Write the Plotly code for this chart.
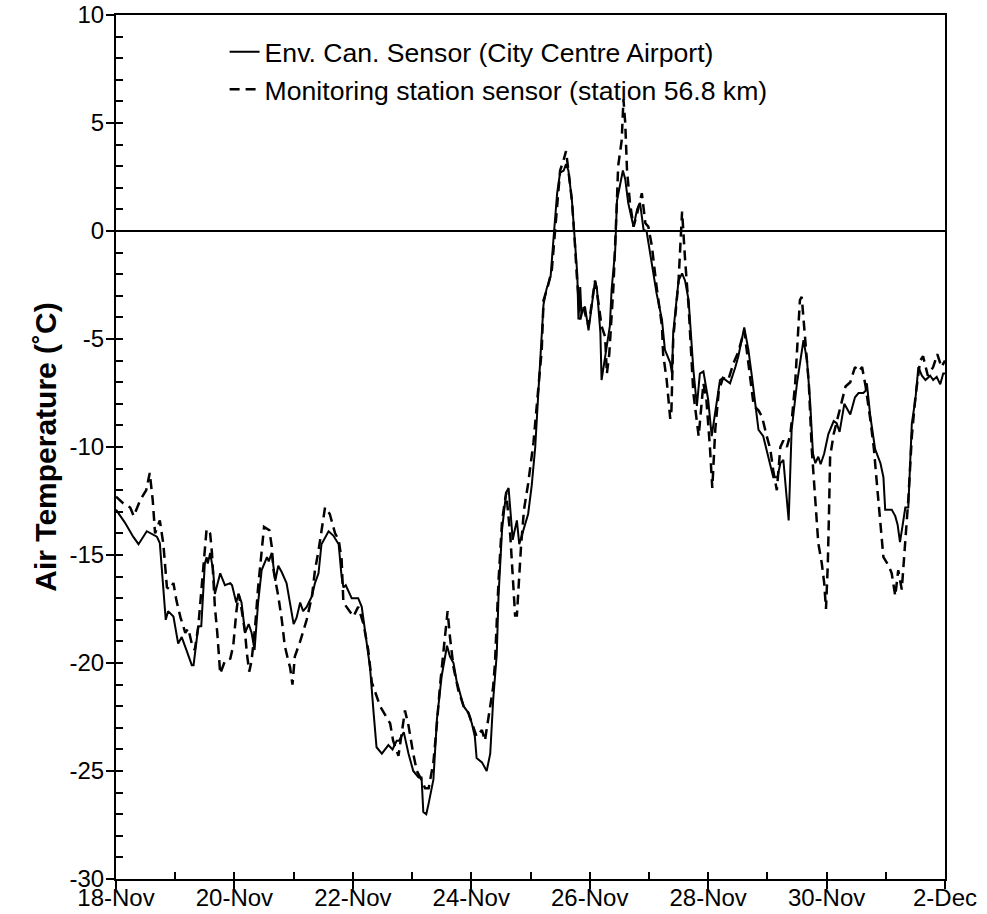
import pandas as pd
import plotly.graph_objects as go

START = "2016-11-18"

# Env. Can. Sensor (City Centre Airport): days after 18-Nov, temperature (°C)
env_days = [0.00, 0.15, 0.29, 0.38, 0.52, 0.69, 0.74, 0.84, 0.88, 0.97, 1.05, 1.11, 1.19, 1.28, 1.31, 1.36,
            1.39, 1.44, 1.50, 1.53, 1.55, 1.59, 1.64, 1.67, 1.76, 1.84, 1.93, 1.96, 2.03, 2.07, 2.12, 2.18,
            2.24, 2.29, 2.34, 2.40, 2.46, 2.55, 2.58, 2.63, 2.69, 2.74, 2.80, 2.88, 3.00, 3.05, 3.11, 3.16,
            3.22, 3.31, 3.36, 3.42, 3.47, 3.59, 3.67, 3.76, 3.81, 3.84, 3.88, 3.98, 4.09, 4.15, 4.23, 4.29,
            4.35, 4.40, 4.49, 4.60, 4.67, 4.74, 4.78, 4.86, 4.94, 5.02, 5.11, 5.16, 5.19, 5.24, 5.28, 5.36,
            5.42, 5.50, 5.59, 5.64, 5.70, 5.75, 5.81, 5.87, 5.95, 6.01, 6.06, 6.09, 6.18, 6.26, 6.32, 6.37,
            6.43, 6.46, 6.52, 6.59, 6.63, 6.67, 6.70, 6.73, 6.77, 6.81, 6.88, 6.96, 7.02, 7.08, 7.13, 7.22,
            7.27, 7.34, 7.39, 7.45, 7.50, 7.56, 7.60, 7.64, 7.70, 7.75, 7.79, 7.81, 7.84, 7.86, 7.92, 7.98,
            8.04, 8.09, 8.12, 8.18, 8.20, 8.23, 8.29, 8.34, 8.37, 8.43, 8.46, 8.51, 8.56, 8.60, 8.65, 8.74,
            8.80, 8.85, 8.91, 8.96, 9.05, 9.13, 9.22, 9.27, 9.36, 9.39, 9.41, 9.50, 9.56, 9.61, 9.67, 9.75,
            9.81, 9.86, 9.92, 10.00, 10.06, 10.15, 10.20, 10.25, 10.37, 10.46, 10.51, 10.61, 10.68, 10.74,
            10.79, 10.85, 10.93, 11.02, 11.10, 11.17, 11.22, 11.27, 11.36, 11.41, 11.50, 11.61, 11.67, 11.72,
            11.77, 11.81, 11.86, 11.90, 11.96, 12.03, 12.12, 12.17, 12.22, 12.30, 12.40, 12.48, 12.54, 12.62,
            12.66, 12.68, 12.74, 12.82, 12.91, 12.96, 12.99, 13.10, 13.16, 13.20, 13.24, 13.28, 13.33, 13.38,
            13.44, 13.50, 13.55, 13.61, 13.67, 13.75, 13.80, 13.86, 13.92, 13.97, 14.00]
env_temp = [-12.9, -13.5, -14.15, -14.5, -13.9, -14.15, -14.45, -18.0, -17.6, -17.85, -19.1, -18.8, -19.4, -20.1, -20.1, -18.8,
            -18.3, -18.3, -15.4, -15.1, -15.4, -14.9, -15.7, -16.8, -15.85, -16.4, -16.3, -16.4, -17.2, -16.8, -17.2, -18.6,
            -18.2, -18.6, -19.4, -17.2, -15.7, -15.1, -15.3, -14.9, -16.2, -15.5, -15.8, -16.3, -18.2, -17.9, -17.2, -17.6,
            -17.4, -16.9, -16.3, -15.85, -14.5, -13.9, -14.1, -14.5, -16.0, -16.5, -16.4, -17.0, -17.0, -17.4, -18.9, -20.2,
            -22.3, -23.9, -24.2, -23.8, -24.0, -23.6, -23.6, -23.2, -24.2, -25.0, -25.3, -25.3, -26.9, -27.0, -26.5, -25.4,
            -22.6, -20.6, -19.2, -19.7, -20.0, -20.8, -21.4, -22.0, -22.3, -22.8, -23.4, -24.4, -24.6, -25.0, -24.2, -21.7,
            -19.6, -16.9, -13.8, -12.1, -11.9, -13.2, -14.3, -13.9, -13.4, -14.5, -13.8, -13.1, -11.8, -10.0, -7.6, -3.4,
            -2.7, -2.1, -0.3, 1.75, 2.7, 2.8, 3.1, 2.8, 1.4, -0.3, -2.0, -4.1, -2.6, -3.8, -3.5, -4.6,
            -3.2, -2.3, -2.6, -4.7, -6.9, -6.4, -5.4, -4.4, -2.7, -0.9, 1.4, 2.05, 2.8, 2.4, 1.3, 0.2,
            1.0, 1.3, 0.05, 0.0, -1.65, -2.9, -4.1, -5.5, -6.1, -6.6, -4.7, -2.3, -1.96, -2.3, -3.2, -6.4,
            -8.1, -6.6, -6.5, -7.8, -9.5, -7.7, -6.9, -6.8, -7.05, -6.3, -5.8, -4.46, -5.5, -6.75,
            -7.8, -9.2, -9.5, -10.45, -11.4, -11.4, -10.75, -10.6, -13.4, -9.2, -7.05, -5.05, -6.0, -7.8,
            -10.3, -10.75, -10.45, -10.8, -10.3, -9.4, -8.8, -8.9, -9.3, -8.0, -8.5, -7.7, -7.5, -7.5,
            -7.4, -7.05, -8.6, -10.1, -10.75, -11.4, -12.9, -12.9, -13.2, -13.6, -14.4, -13.7, -12.8, -12.8,
            -8.9, -7.8, -6.3, -6.7, -6.9, -6.7, -6.9, -6.75, -7.1, -6.6, -6.6]

# Monitoring station sensor (station 56.8 km)
mon_days = [0.00, 0.12, 0.24, 0.30, 0.41, 0.51, 0.57, 0.62, 0.66, 0.74, 0.80, 0.86, 0.91, 0.97, 1.02, 1.09,
            1.17, 1.22, 1.28, 1.33, 1.39, 1.47, 1.53, 1.59, 1.62, 1.67, 1.71, 1.76, 1.84, 1.93, 1.98, 2.03,
            2.07, 2.12, 2.18, 2.21, 2.25, 2.29, 2.35, 2.40, 2.46, 2.50, 2.59, 2.63, 2.66, 2.74, 2.80, 2.85,
            2.91, 2.94, 2.98, 3.02, 3.11, 3.22, 3.31, 3.36, 3.42, 3.47, 3.53, 3.61, 3.70, 3.76, 3.81, 3.84,
            3.92, 4.01, 4.09, 4.18, 4.26, 4.32, 4.46, 4.63, 4.68, 4.77, 4.88, 4.94, 5.02, 5.08, 5.14, 5.22,
            5.28, 5.36, 5.42, 5.47, 5.54, 5.60, 5.64, 5.70, 5.78, 5.87, 5.95, 6.04, 6.09, 6.18, 6.23, 6.32,
            6.37, 6.40, 6.46, 6.52, 6.59, 6.66, 6.69, 6.74, 6.77, 6.81, 6.84, 6.89, 6.96, 7.05, 7.11, 7.19,
            7.22, 7.29, 7.36, 7.42, 7.50, 7.56, 7.60, 7.64, 7.70, 7.75, 7.78, 7.84, 7.89, 7.98, 8.04, 8.09,
            8.15, 8.20, 8.26, 8.29, 8.33, 8.37, 8.40, 8.46, 8.48, 8.54, 8.57, 8.60, 8.63, 8.68, 8.74, 8.80,
            8.88, 8.94, 8.99, 9.05, 9.13, 9.22, 9.24, 9.30, 9.36, 9.38, 9.41, 9.50, 9.56, 9.61, 9.67, 9.75,
            9.84, 9.92, 9.97, 10.03, 10.07, 10.12, 10.18, 10.25, 10.34, 10.43, 10.51, 10.61, 10.68, 10.77,
            10.85, 10.91, 10.99, 11.05, 11.10, 11.16, 11.22, 11.27, 11.33, 11.39, 11.47, 11.55, 11.58, 11.64,
            11.70, 11.75, 11.81, 11.86, 11.92, 11.96, 11.99, 12.02, 12.04, 12.06, 12.12, 12.17, 12.22, 12.32,
            12.40, 12.48, 12.54, 12.60, 12.66, 12.74, 12.80, 12.85, 12.91, 12.96, 13.05, 13.10, 13.16, 13.21,
            13.27, 13.33, 13.38, 13.44, 13.50, 13.58, 13.63, 13.71, 13.80, 13.87, 13.94, 14.00]
mon_temp = [-12.3, -12.6, -12.8, -13.2, -12.45, -12.0, -11.2, -12.45, -14.0, -13.4, -14.5, -16.5, -16.6, -16.3, -17.1, -17.9,
            -18.6, -18.4, -19.1, -19.4, -18.3, -15.5, -13.8, -14.0, -14.9, -17.4, -18.6, -20.5, -19.9, -19.8, -19.2, -17.7,
            -16.8, -17.5, -18.6, -19.55, -20.4, -19.9, -18.3, -16.5, -14.8, -13.7, -13.85, -14.6, -15.7, -16.9, -18.0, -19.2,
            -19.9, -20.2, -21.0, -19.7, -19.0, -18.0, -16.9, -15.7, -14.8, -13.85, -12.8, -13.1, -14.0, -14.3, -15.2, -17.2,
            -17.5, -17.85, -17.4, -18.2, -19.4, -20.9, -22.0, -22.8, -23.6, -24.3, -22.2, -22.9, -24.2, -25.0, -25.3, -25.8,
            -25.8, -24.6, -22.8, -21.1, -19.2, -17.6, -18.8, -20.2, -21.25, -22.0, -22.3, -22.95, -23.4, -23.1, -23.6, -22.0,
            -21.1, -20.0, -16.2, -13.4, -12.1, -14.15, -15.6, -17.8, -17.8, -15.7, -14.6, -12.9, -11.7, -9.8, -8.0, -5.5,
            -3.2, -2.6, -1.8, 0.2, 2.8, 3.3, 3.7, 2.8, 1.4, -0.6, -2.0, -4.1, -3.5, -4.4, -3.2, -2.3,
            -3.35, -4.4, -4.9, -6.6, -5.7, -4.1, -2.6, 1.4, 3.0, 4.2, 6.1, 5.0, 2.8, 1.3, 0.2, 0.8,
            1.75, 0.36, 0.2, -0.7, -2.6, -4.4, -5.7, -6.9, -8.7, -8.3, -5.0, -2.3, 0.9, -1.3, -3.5, -7.5,
            -9.5, -7.05, -7.8, -10.0, -11.9, -9.2, -7.4, -6.8, -6.9, -6.1, -5.6, -4.6, -6.1, -8.1,
            -8.3, -8.6, -9.5, -10.1, -11.1, -12.0, -10.0, -9.7, -10.0, -9.4, -7.05, -3.2, -3.05, -4.9,
            -7.05, -10.1, -12.45, -14.45, -15.4, -16.3, -17.5, -15.5, -13.2, -10.45, -9.4, -8.9, -8.3, -7.2,
            -7.0, -6.3, -6.5, -6.3, -7.2, -8.75, -10.1, -11.7, -13.5, -15.1, -15.5, -15.85, -16.9, -15.7,
            -16.6, -14.45, -12.45, -9.5, -7.7, -6.0, -5.8, -6.7, -6.3, -5.7, -6.3, -6.0]

series_names = ["Env. Can. Sensor (City Centre Airport)", "Monitoring station sensor (station 56.8 km)"]
y_title = "Air Temperature (˚C)"
x_range_days = [0, 14]
y_range = [-30, 10]
y_tickvals = [-30, -25, -20, -15, -10, -5, 0, 5, 10]
y_ticktext = ["-30", "-25", "-20", "-15", "-10", "-5", "0", "5", "10"]

t0 = pd.Timestamp(START)
to_dt = lambda d: [t0 + pd.Timedelta(days=v) for v in d]
x_lo, x_hi = to_dt(x_range_days)

FONT = "Arial, Liberation Sans, sans-serif"
TICK_FS = 24

fig = go.Figure()
fig.add_trace(go.Scatter(x=to_dt(env_days), y=env_temp, mode="lines", name=series_names[0],
                         line=dict(color="black", width=2)))
fig.add_trace(go.Scatter(x=to_dt(mon_days), y=mon_temp, mode="lines", name=series_names[1],
                         line=dict(color="black", width=2.5, dash="10px,6px")))

DAY_MS = 86400000
fig.update_layout(
    template="none",
    width=987, height=914,
    margin=dict(l=116, r=42, t=15, b=35),
    paper_bgcolor="white", plot_bgcolor="white",
    font=dict(family=FONT, size=TICK_FS, color="black"),
    showlegend=True,
    legend=dict(x=0.131, y=0.985, xanchor="left", yanchor="top",
                bgcolor="rgba(0,0,0,0)", font=dict(size=26.6, family=FONT),
                tracegroupgap=0),
    xaxis=dict(type="date", range=[x_lo, x_hi], showgrid=False, zeroline=False,
               showline=True, linecolor="black", linewidth=2, mirror=True,
               ticks="outside", ticklen=8, tickwidth=1.5, tickcolor="black",
               dtick=2 * DAY_MS, tick0=START, tickformat="%-d-%b",
               ticklabelstandoff=-12,
               tickfont=dict(size=TICK_FS, family=FONT), automargin=False),
    xaxis2=dict(type="date", overlaying="x", anchor="y", side="bottom", range=[x_lo, x_hi],
                showgrid=False, zeroline=False, showline=False, showticklabels=False,
                ticks="inside", ticklen=7, tickwidth=1.5, tickcolor="black",
                dtick=DAY_MS, tick0=START, automargin=False),
    yaxis=dict(range=y_range, tickmode="array", tickvals=y_tickvals, ticktext=y_ticktext,
               showgrid=False,
               zeroline=True, zerolinecolor="black", zerolinewidth=2,
               showline=True, linecolor="black", linewidth=2, mirror=True,
               ticks="outside", ticklen=8, tickwidth=1.5, tickcolor="black",
               ticklabelstandoff=-3,
               tickfont=dict(size=TICK_FS, family=FONT), automargin=False,
               title=dict(text=y_title, font=dict(size=30, family=FONT, weight="bold"), standoff=4)),
    yaxis2=dict(range=y_range, dtick=1, overlaying="y", anchor="x", side="left",
                showgrid=False, zeroline=False, showline=False, showticklabels=False,
                ticks="inside", ticklen=7, tickwidth=1.5, tickcolor="black", automargin=False),
)
# invisible helper trace so the overlay axes are drawn
fig.add_trace(go.Scatter(x=[x_lo], y=[y_range[0]], xaxis="x2", yaxis="y2", mode="markers",
                         marker=dict(opacity=0), showlegend=False, hoverinfo="skip"))

fig.write_html("out.html")
